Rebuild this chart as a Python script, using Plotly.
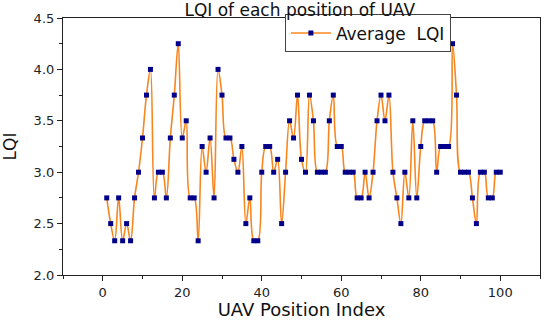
import plotly.graph_objects as go

positions = list(range(1, 101))
avg_lqi = [
    2.75, 2.5, 2.333, 2.75, 2.333, 2.5, 2.333, 2.75, 3.0, 3.333,
    3.75, 4.0, 2.75, 3.0, 3.0, 2.75, 3.333, 3.75, 4.25, 3.333,
    3.5, 2.75, 2.75, 2.333, 3.25, 3.0, 3.333, 2.75, 4.0, 3.75,
    3.333, 3.333, 3.125, 3.0, 3.25, 2.5, 2.75, 2.333, 2.333, 3.0,
    3.25, 3.25, 3.0, 3.125, 2.5, 3.0, 3.5, 3.333, 3.75, 3.125,
    3.0, 3.75, 3.5, 3.0, 3.0, 3.0, 3.5, 3.75, 3.25, 3.25,
    3.0, 3.0, 3.0, 2.75, 2.75, 3.0, 2.75, 3.0, 3.5, 3.75,
    3.5, 3.75, 3.0, 2.75, 2.5, 3.0, 2.75, 3.5, 2.75, 3.25,
    3.5, 3.5, 3.5, 3.0, 3.25, 3.25, 3.25, 4.25, 3.75, 3.0,
    3.0, 3.0, 2.75, 2.5, 3.0, 3.0, 2.75, 2.75, 3.0, 3.0,
]
x_ticks = [0, 20, 40, 60, 80, 100]
y_ticks = [2.0, 2.5, 3.0, 3.5, 4.0, 4.5]

font_family = "DejaVu Sans, Verdana, sans-serif"

fig = go.Figure()
fig.add_trace(go.Scatter(
    x=positions, y=avg_lqi, mode="lines+markers", name="Average\u00a0\u00a0LQI",
    line=dict(color="#F7861E", width=1.6, shape="spline", smoothing=1),
    marker=dict(symbol="square", size=5, color="#00008B",
                line=dict(width=0)),
))

axis_common = dict(
    showline=True, linecolor="#222222", linewidth=1.2, mirror=True,
    ticks="outside", ticklen=5, tickwidth=1, tickcolor="#222222",
    showgrid=False, zeroline=False, automargin=False,
    tickfont=dict(family=font_family, size=13, color="#222222"),
)

fig.update_layout(
    width=550, height=320,
    margin=dict(l=63, r=10, t=18, b=45, autoexpand=False),
    paper_bgcolor="white", plot_bgcolor="white",
    title=dict(text="LQI of each position of UAV", x=0.545, xanchor="center",
               y=0.968, yanchor="middle",
               font=dict(family=font_family, size=17, color="#111111")),
    xaxis=dict(range=[-10, 110], tickvals=x_ticks,
               minor=dict(dtick=10, ticks="outside", ticklen=3, tickcolor="#222222"),
               title=dict(text="UAV Position Index", standoff=0,
                          font=dict(family=font_family, size=18, color="#111111")),
               **axis_common),
    yaxis=dict(range=[2.0, 4.5], tickvals=y_ticks, tickformat=".1f",
               minor=dict(dtick=0.25, ticks="outside", ticklen=3, tickcolor="#222222"),
               title=dict(text="LQI", standoff=14,
                          font=dict(family=font_family, size=17, color="#111111")),
               **axis_common),
    showlegend=True,
    legend=dict(xref="container", yref="container", x=0.518, y=0.955,
                xanchor="left", yanchor="top",
                bgcolor="white", bordercolor="#444444", borderwidth=1,
                font=dict(family=font_family, size=17, color="#111111"),
                tracegroupgap=0, itemwidth=40),
)

fig.write_html("out.html", config={"displayModeBar": False},
               post_script="document.body.style.margin='0';")
